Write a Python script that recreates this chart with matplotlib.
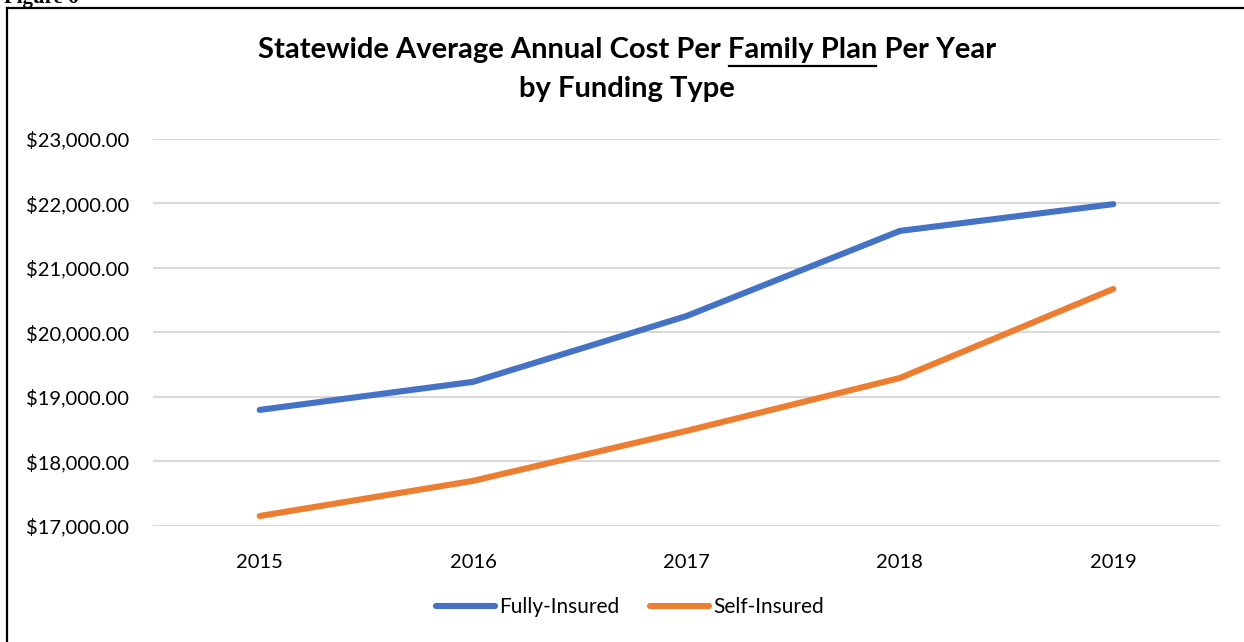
import matplotlib
matplotlib.use('Agg')
import matplotlib.pyplot as plt
from matplotlib.lines import Line2D
from matplotlib.ticker import FuncFormatter

years = ['2015', '2016', '2017', '2018', '2019']
fully_insured = [18800, 19235, 20255, 21575, 21990]
self_insured = [17155, 17700, 18475, 19295, 20675]
y_ticks = [17000, 18000, 19000, 20000, 21000, 22000, 23000]

BLUE = '#4472C4'
ORANGE = '#ED7D31'
GRID = '#d9d9d9'

plt.rcParams['font.family'] = ['Lato', 'DejaVu Sans']

fig = plt.figure(figsize=(12.44, 6.42), dpi=100)
ax = fig.add_axes([153 / 1244, 1 - 526 / 642, 1067 / 1244, 387 / 642])

x = list(range(len(years)))
ax.plot(x, fully_insured, color=BLUE, lw=4.4, solid_capstyle='round',
        solid_joinstyle='round', label='Fully-Insured', zorder=3)
ax.plot(x, self_insured, color=ORANGE, lw=4.4, solid_capstyle='round',
        solid_joinstyle='round', label='Self-Insured', zorder=3)

ax.set_xlim(-0.5, len(years) - 0.5)
ax.set_ylim(y_ticks[0], y_ticks[-1])
ax.set_xticks(x)
ax.set_xticklabels(years)
ax.set_yticks(y_ticks)
ax.yaxis.set_major_formatter(FuncFormatter(lambda v, p: f'${v:,.2f}'))
ax.tick_params(axis='both', length=0, labelsize=14.5, colors='black')
ax.tick_params(axis='x', pad=20)
ax.tick_params(axis='y', pad=17)
ax.grid(axis='y', color=GRID, lw=1.5, zorder=0)
ax.set_axisbelow(True)
for s in ax.spines.values():
    s.set_visible(False)

# title, with "Family Plan" underlined
TS = 21
cx = 627 / 1244
line1 = 'Statewide Average Annual Cost Per Family Plan Per Year'
t1 = fig.text(cx, 1 - 50 / 642, line1, ha='center', va='center',
              fontsize=TS, fontweight='bold')
fig.text(cx, 1 - 89 / 642, 'by Funding Type', ha='center', va='center',
         fontsize=TS, fontweight='bold')

fig.canvas.draw()
r = fig.canvas.get_renderer()
bb = t1.get_window_extent(r)
pre = fig.text(0, 0, 'Statewide Average Annual Cost Per ', fontsize=TS, fontweight='bold')
fam = fig.text(0, 0, 'Family Plan', fontsize=TS, fontweight='bold')
w_pre = pre.get_window_extent(r).width
w_fam = fam.get_window_extent(r).width
pre.remove()
fam.remove()
x0 = bb.x0 + w_pre + 1
uy = 1 - 66 / 642
fig.add_artist(Line2D([x0 / 1244, (x0 + w_fam - 2) / 1244], [uy, uy],
                      color='black', lw=1.6))

fig.legend(loc='center', bbox_to_anchor=(630 / 1244, 1 - 607 / 642), ncol=2,
           frameon=False, fontsize=15, handlelength=2.8, handletextpad=0.2,
           columnspacing=1.5)

# outer frame of the figure box, cut off at right and bottom
fig.add_artist(Line2D([7.5 / 1244, 7.5 / 1244], [0, 1 - 8 / 642], color='black', lw=1.6))
fig.add_artist(Line2D([7.5 / 1244, 1], [1 - 8 / 642, 1 - 8 / 642], color='black', lw=1.6))
fig.text(4 / 1244, 1 - 3 / 642, 'Figure 6', fontsize=15, fontweight='bold',
         family='Liberation Serif', va='baseline', ha='left')

fig.savefig('out.png', dpi=100, facecolor='white')
